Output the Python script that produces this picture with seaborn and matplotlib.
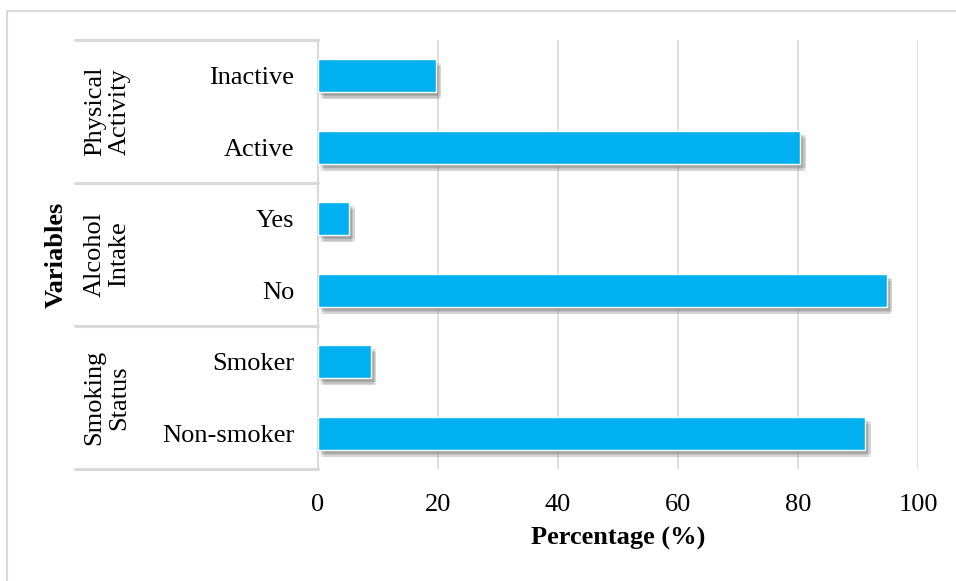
import matplotlib
matplotlib.use('Agg')
import matplotlib.pyplot as plt
import matplotlib.patheffects as pe
import matplotlib.transforms as mtransforms
from matplotlib.patches import Rectangle
import seaborn as sns
import pandas as pd

# Données
items = ['Inactive', 'Active', 'Yes', 'No', 'Smoker', 'Non-smoker']
percentages = [19.6, 80.4, 5.2, 94.8, 8.8, 91.2]
groups = ['Physical\nActivity', 'Alcohol\nIntake', 'Smoking\nStatus']
group_sizes = [2, 2, 2]
x_ticks = [0, 20, 40, 60, 80, 100]

df = pd.DataFrame({'item': items, 'pct': percentages})

sns.set_style('white')
plt.rcParams['font.family'] = ['Liberation Serif', 'DejaVu Serif']
plt.rcParams['font.size'] = 19
plt.rcParams['text.color'] = 'black'
plt.rcParams['axes.labelcolor'] = 'black'

fig = plt.figure(figsize=(9.56, 5.81), dpi=100)
ax = fig.add_axes([318 / 956, 1 - 469 / 581, 600 / 956, 429 / 581])

sns.barplot(data=df, x='pct', y='item', order=items, orient='h',
            color='#00B0F0', saturation=1, width=0.46, ax=ax, zorder=3)

# ombre portée floue sous les barres (plusieurs couches légères)
shadow = [pe.SimplePatchShadow(offset=o, shadow_rgbFace='#707070', alpha=0.16)
          for o in [(1, -2), (2, -3), (3, -4), (4, -5), (2, -5), (4, -3)]]
for p in ax.patches:
    p.set_path_effects(shadow + [pe.Normal()])

ax.set_xlim(0, 100)
ax.set_ylim(len(items) - 0.5, -0.5)
ax.set_xticks(x_ticks)
ax.grid(axis='x', color='#d9d9d9', lw=1.2, zorder=0)
ax.set_axisbelow(True)
for s in ['top', 'right', 'bottom']:
    ax.spines[s].set_visible(False)
ax.spines['left'].set_color('#d9d9d9')
ax.spines['left'].set_linewidth(1.5)
ax.tick_params(axis='both', length=0, labelsize=19, colors='black')
ax.tick_params(axis='y', pad=17)
ax.tick_params(axis='x', pad=18)
ax.set_ylabel('')
ax.set_xlabel('Percentage (%)', fontsize=19, fontweight='bold', labelpad=8)

# séparateurs et étiquettes de groupes
trans = mtransforms.blended_transform_factory(ax.transAxes, ax.transData)
x_left = (75 - 318) / 600
bounds = [-0.5]
for n in group_sizes:
    bounds.append(bounds[-1] + n)
for b in bounds:
    ax.plot([x_left, 0], [b, b], color='#d9d9d9', lw=2.2, transform=trans, clip_on=False)
for g, lo, hi in zip(groups, bounds[:-1], bounds[1:]):
    ax.text((107 - 318) / 600, (lo + hi) / 2, g, transform=trans, rotation=90,
            ha='center', va='center', multialignment='center', fontsize=19, linespacing=1.15)

ax.text((56 - 318) / 600, 0.5, 'Variables', transform=ax.transAxes, rotation=90,
        ha='center', va='center', fontsize=19, fontweight='bold')

# cadre extérieur
fig.patches.append(Rectangle((6.5 / 956, -0.1), 1.2, 1 - 11 / 581 + 0.1, transform=fig.transFigure,
                             fill=False, edgecolor='#d9d9d9', lw=1.5, zorder=0))

fig.savefig('out.png', dpi=100)
